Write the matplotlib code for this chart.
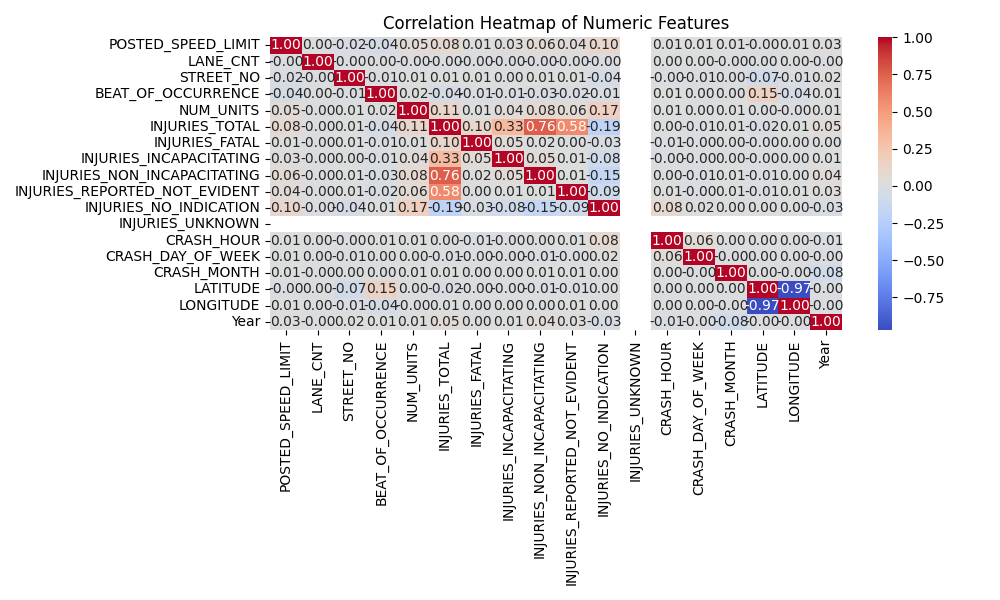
import numpy as np
import pandas as pd
import matplotlib
matplotlib.use('Agg')
import matplotlib.pyplot as plt
import seaborn as sns

features = ['POSTED_SPEED_LIMIT', 'LANE_CNT', 'STREET_NO', 'BEAT_OF_OCCURRENCE',
            'NUM_UNITS', 'INJURIES_TOTAL', 'INJURIES_FATAL', 'INJURIES_INCAPACITATING',
            'INJURIES_NON_INCAPACITATING', 'INJURIES_REPORTED_NOT_EVIDENT',
            'INJURIES_NO_INDICATION', 'INJURIES_UNKNOWN', 'CRASH_HOUR',
            'CRASH_DAY_OF_WEEK', 'CRASH_MONTH', 'LATITUDE', 'LONGITUDE', 'Year']

n = np.nan
z = -0.001  # shows as -0.00

corr_rows = [
    [1.00, 0.00, -0.02, -0.04, 0.05, 0.08, 0.01, 0.03, 0.06, 0.04, 0.10, n, 0.01, 0.01, 0.01, z, 0.01, 0.03],
    [z, 1.00, z, 0.00, z, z, z, z, z, z, z, n, 0.00, 0.00, z, 0.00, 0.00, z],
    [-0.02, z, 1.00, -0.01, 0.01, 0.01, 0.01, 0.00, 0.01, 0.01, -0.04, n, z, -0.01, 0.00, -0.07, -0.01, 0.02],
    [-0.04, 0.00, -0.01, 1.00, 0.02, -0.04, -0.01, -0.01, -0.03, -0.02, -0.01, n, 0.01, 0.00, 0.00, 0.15, -0.04, 0.01],
    [0.05, z, 0.01, 0.02, 1.00, 0.11, 0.01, 0.04, 0.08, 0.06, 0.17, n, 0.01, 0.00, 0.01, 0.00, z, 0.01],
    [0.08, z, 0.01, -0.04, 0.11, 1.00, 0.10, 0.33, 0.76, 0.58, -0.19, n, 0.00, -0.01, 0.01, -0.02, 0.01, 0.05],
    [0.01, z, 0.01, -0.01, 0.01, 0.10, 1.00, 0.05, 0.02, 0.00, -0.03, n, -0.01, z, 0.00, z, 0.00, 0.00],
    [0.03, z, 0.00, -0.01, 0.04, 0.33, 0.05, 1.00, 0.05, 0.01, -0.08, n, z, z, 0.00, z, 0.00, 0.01],
    [0.06, z, 0.01, -0.03, 0.08, 0.76, 0.02, 0.05, 1.00, 0.01, -0.15, n, 0.00, -0.01, 0.01, -0.01, 0.00, 0.04],
    [0.04, z, 0.01, -0.02, 0.06, 0.58, 0.00, 0.01, 0.01, 1.00, -0.09, n, 0.01, z, 0.01, -0.01, 0.01, 0.03],
    [0.10, z, -0.04, 0.01, 0.17, -0.19, -0.03, -0.08, -0.15, -0.09, 1.00, n, 0.08, 0.02, 0.00, 0.00, 0.00, -0.03],
    [n] * 18,
    [0.01, 0.00, z, 0.01, 0.01, 0.00, -0.01, z, 0.00, 0.01, 0.08, n, 1.00, 0.06, 0.00, 0.00, 0.00, -0.01],
    [0.01, 0.00, -0.01, 0.00, 0.00, -0.01, z, z, -0.01, z, 0.02, n, 0.06, 1.00, z, 0.00, 0.00, z],
    [0.01, z, 0.00, 0.00, 0.01, 0.01, 0.00, 0.00, 0.01, 0.01, 0.00, n, 0.00, z, 1.00, 0.00, z, -0.08],
    [z, 0.00, -0.07, 0.15, 0.00, -0.02, z, z, -0.01, -0.01, 0.00, n, 0.00, 0.00, 0.00, 1.00, -0.97, z],
    [0.01, 0.00, -0.01, -0.04, z, 0.01, 0.00, 0.00, 0.00, 0.01, 0.00, n, 0.00, 0.00, z, -0.97, 1.00, z],
    [0.03, z, 0.02, 0.01, 0.01, 0.05, 0.00, 0.01, 0.04, 0.03, -0.03, n, -0.01, z, -0.08, z, z, 1.00],
]

corr = pd.DataFrame(corr_rows, index=features, columns=features)

plt.figure(figsize=(10, 6))
sns.heatmap(corr, annot=True, fmt='.2f', cmap='coolwarm')
plt.title('Correlation Heatmap of Numeric Features')
plt.tight_layout()
plt.savefig('out.png', dpi=100)
